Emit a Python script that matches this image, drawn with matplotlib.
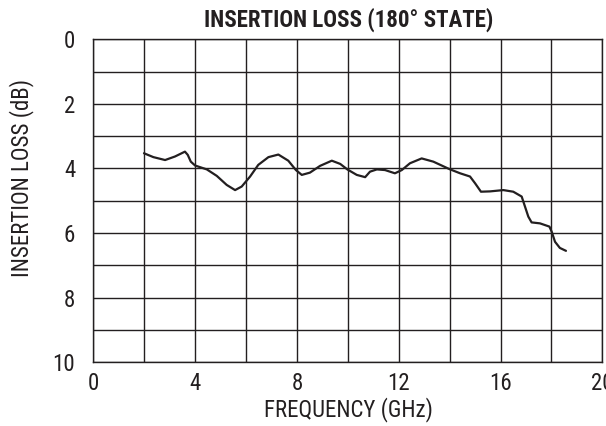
import matplotlib
matplotlib.use('Agg')
from matplotlib import pyplot as plt
import numpy as np

plt.rcParams['font.family'] = ['Liberation Sans Narrow', 'Roboto Condensed', 'Liberation Sans', 'DejaVu Sans']

freq_ghz = [1.99, 2.36, 2.82, 3.21, 3.60, 3.71, 3.83, 4.00, 4.46, 4.85, 5.24, 5.57,
            5.83, 6.16, 6.48, 6.88, 7.27, 7.66, 7.96, 8.19, 8.51, 8.91, 9.37, 9.70,
            9.98, 10.35, 10.68, 10.87, 11.14, 11.46, 11.85, 12.12, 12.44, 12.90,
            13.36, 13.99, 14.41, 14.80, 15.00, 15.23, 15.59, 16.11, 16.50, 16.83,
            16.96, 17.09, 17.22, 17.55, 17.92, 18.01, 18.14, 18.33, 18.57]
loss_db = [3.53, 3.65, 3.74, 3.63, 3.48, 3.58, 3.79, 3.91, 4.03, 4.23, 4.51, 4.67,
           4.56, 4.25, 3.89, 3.65, 3.57, 3.76, 4.05, 4.20, 4.13, 3.92, 3.76, 3.86,
           4.03, 4.20, 4.27, 4.10, 4.03, 4.05, 4.15, 4.05, 3.84, 3.69,
           3.79, 4.02, 4.15, 4.25, 4.46, 4.72, 4.71, 4.67, 4.72, 4.87,
           5.18, 5.49, 5.67, 5.70, 5.80, 5.96, 6.27, 6.46, 6.55]

x_ticks = [0, 4, 8, 12, 16, 20]
y_ticks = [0, 2, 4, 6, 8, 10]

W, H = 606, 426
fig = plt.figure(figsize=(W/100, H/100), dpi=100)
ax = fig.add_axes([0.154, 0.1495, 0.840, 0.7585])

ax.plot(freq_ghz, loss_db, color='#231f20', lw=1.6,
        solid_capstyle='round', solid_joinstyle='round')

ax.set_xlim(0, 20)
ax.set_ylim(10, 0)
ax.set_xticks(np.arange(0, 21, 2), minor=True)
ax.set_yticks(np.arange(0, 11, 1), minor=True)
ax.set_xticks(x_ticks)
ax.set_yticks(y_ticks)
ax.grid(True, which='both', color='#231f20', lw=1.0)
ax.tick_params(which='both', length=0, labelsize=16.5, colors='#231f20')
ax.tick_params(axis='x', pad=7)
ax.tick_params(axis='y', pad=13)
for s in ax.spines.values():
    s.set_color('#231f20')
    s.set_linewidth(1.0)

fs = 16.5
fig.text(349/W, 1-20/H, 'INSERTION LOSS (180° STATE)', fontsize=fs, fontweight='bold',
         color='#231f20', ha='center', va='center')
fig.text(348/W, 1-410/H, 'FREQUENCY (GHz)', fontsize=fs, color='#231f20',
         ha='center', va='center')
fig.text(22/W, 1-178/H, 'INSERTION LOSS (dB)', fontsize=fs, color='#231f20',
         ha='center', va='center', rotation=90)

fig.savefig('out.png', dpi=100)
